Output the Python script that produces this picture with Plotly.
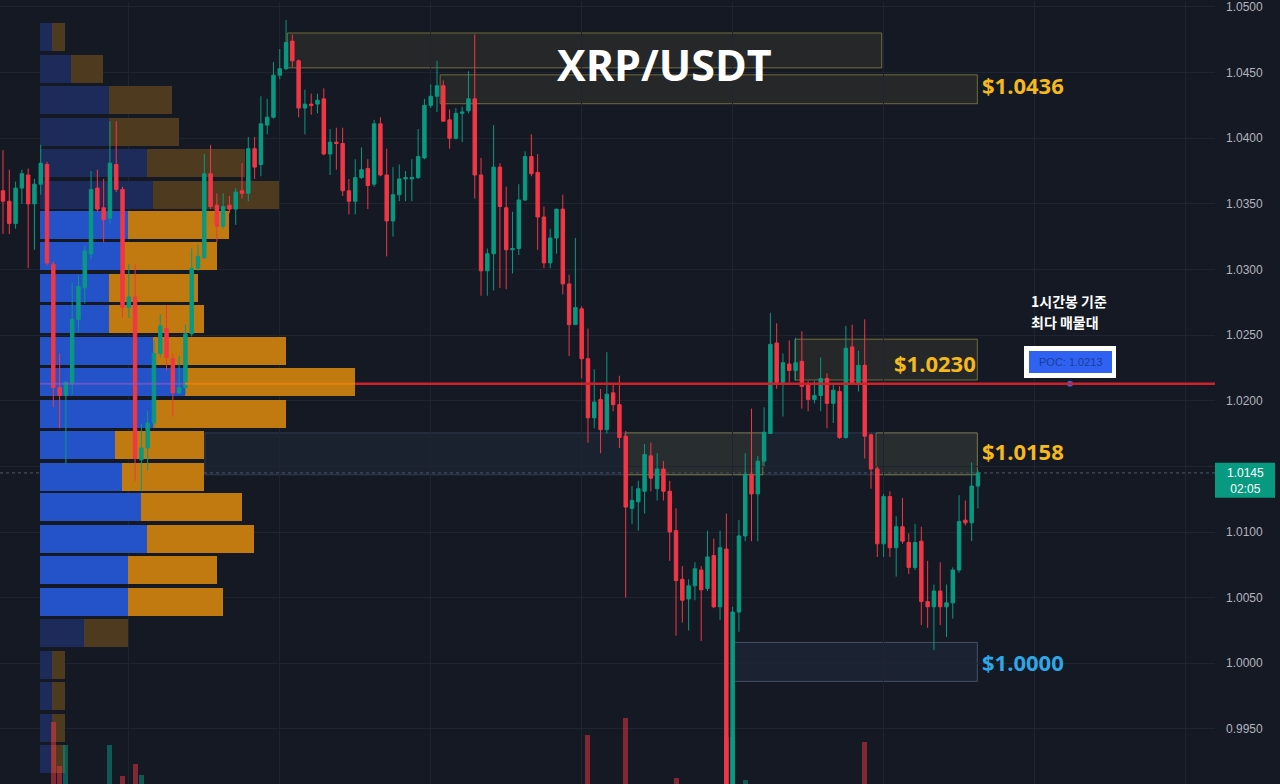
import plotly.graph_objects as go

# ---------------- data ----------------
bar_index = list(range(156))
opens = [1.0360,1.0352,1.0335,1.0362,1.0372,1.0350,1.0365,1.0380,1.0304,1.0210,
         1.0204,1.0213,1.0262,1.0286,1.0312,1.0362,1.0347,1.0339,1.0380,1.0361,
         1.0271,1.0279,1.0155,1.0164,1.0183,1.0236,1.0255,1.0232,1.0206,1.0210,
         1.0251,1.0301,1.0309,1.0373,1.0349,1.0333,1.0349,1.0346,1.0360,1.0358,
         1.0392,1.0380,1.0410,1.0416,1.0448,1.0453,1.0474,1.0459,1.0423,1.0426,
         1.0426,1.0430,1.0388,1.0397,1.0396,1.0360,1.0352,1.0370,1.0377,1.0365,
         1.0411,1.0372,1.0337,1.0357,1.0369,1.0369,1.0370,1.0385,1.0425,1.0432,
         1.0440,1.0414,1.0400,1.0419,1.0421,1.0430,1.0372,1.0299,1.0312,1.0378,
         1.0347,1.0315,1.0316,1.0353,1.0386,1.0374,1.0340,1.0305,1.0324,1.0346,
         1.0289,1.0258,1.0270,1.0232,1.0187,1.0201,1.0178,1.0206,1.0197,1.0173,
         1.0118,1.0123,1.0131,1.0158,1.0133,1.0148,1.0131,1.0101,1.0064,1.0049,
         1.0059,1.0071,1.0057,1.0082,1.0043,1.0087,0.9900,1.0039,1.0097,1.0144,
         1.0129,1.0154,1.0175,1.0244,1.0214,1.0228,1.0223,1.0230,1.0213,1.0201,
         1.0204,1.0217,1.0198,1.0207,1.0172,1.0241,1.0213,1.0227,1.0174,1.0148,
         1.0091,1.0127,1.0088,1.0104,1.0092,1.0073,1.0093,1.0047,1.0043,1.0055,
         1.0043,1.0046,1.0071,1.0109,1.0107,1.0135]
highs = [1.0391,1.0376,1.0367,1.0376,1.0377,1.0369,1.0395,1.0382,1.0306,1.0236,
         1.0215,1.0290,1.0296,1.0318,1.0375,1.0376,1.0369,1.0413,1.0413,1.0363,
         1.0304,1.0304,1.0182,1.0192,1.0246,1.0266,1.0273,1.0236,1.0234,1.0258,
         1.0316,1.0319,1.0388,1.0395,1.0358,1.0358,1.0356,1.0362,1.0381,1.0401,
         1.0401,1.0432,1.0430,1.0458,1.0468,1.0490,1.0479,1.0460,1.0437,1.0434,
         1.0434,1.0438,1.0407,1.0408,1.0408,1.0369,1.0384,1.0393,1.0384,1.0414,
         1.0416,1.0392,1.0378,1.0380,1.0375,1.0384,1.0407,1.0430,1.0441,1.0459,
         1.0444,1.0422,1.0423,1.0424,1.0451,1.0479,1.0385,1.0316,1.0410,1.0381,
         1.0363,1.0344,1.0365,1.0390,1.0403,1.0388,1.0348,1.0331,1.0346,1.0357,
         1.0296,1.0324,1.0272,1.0255,1.0224,1.0209,1.0237,1.0213,1.0219,1.0177,
         1.0135,1.0139,1.0167,1.0168,1.0160,1.0154,1.0139,1.0118,1.0074,1.0064,
         1.0077,1.0074,1.0101,1.0095,1.0101,1.0114,1.0043,1.0109,1.0160,1.0194,
         1.0158,1.0195,1.0267,1.0259,1.0236,1.0246,1.0248,1.0253,1.0215,1.0215,
         1.0233,1.0221,1.0213,1.0211,1.0257,1.0258,1.0238,1.0262,1.0175,1.0150,
         1.0129,1.0131,1.0112,1.0126,1.0099,1.0106,1.0104,1.0078,1.0060,1.0077,
         1.0060,1.0073,1.0128,1.0124,1.0153,1.0147]
lows = [1.0327,1.0327,1.0331,1.0350,1.0301,1.0315,1.0357,1.0303,1.0195,1.0179,
        1.0152,1.0205,1.0252,1.0274,1.0308,1.0344,1.0321,1.0335,1.0359,1.0263,
        1.0263,1.0139,1.0131,1.0147,1.0179,1.0233,1.0223,1.0188,1.0205,1.0205,
        1.0249,1.0299,1.0308,1.0346,1.0321,1.0331,1.0343,1.0334,1.0354,1.0352,
        1.0369,1.0371,1.0403,1.0415,1.0445,1.0452,1.0454,1.0416,1.0403,1.0418,
        1.0419,1.0387,1.0372,1.0376,1.0356,1.0342,1.0342,1.0369,1.0346,1.0363,
        1.0371,1.0310,1.0325,1.0352,1.0352,1.0352,1.0369,1.0384,1.0423,1.0420,
        1.0413,1.0392,1.0399,1.0397,1.0419,1.0354,1.0280,1.0280,1.0284,1.0286,
        1.0285,1.0297,1.0311,1.0352,1.0371,1.0315,1.0301,1.0301,1.0312,1.0281,
        1.0234,1.0258,1.0217,1.0168,1.0179,1.0160,1.0175,1.0192,1.0164,1.0050,
        1.0106,1.0101,1.0114,1.0131,1.0124,1.0124,1.0078,1.0021,1.0031,1.0025,
        1.0048,1.0017,1.0055,1.0042,1.0033,0.9895,0.9895,1.0024,1.0093,1.0093,
        1.0093,1.0150,1.0175,1.0209,1.0188,1.0214,1.0215,1.0194,1.0192,1.0198,
        1.0192,1.0179,1.0183,1.0171,1.0171,1.0213,1.0207,1.0156,1.0133,1.0081,
        1.0081,1.0081,1.0066,1.0091,1.0068,1.0071,1.0029,1.0027,1.0010,1.0029,
        1.0020,1.0034,1.0069,1.0105,1.0093,1.0118]
closes = [1.0352,1.0335,1.0362,1.0373,1.0350,1.0365,1.0381,1.0305,1.0210,1.0204,
          1.0214,1.0262,1.0287,1.0314,1.0361,1.0346,1.0338,1.0381,1.0361,1.0271,
          1.0279,1.0156,1.0164,1.0183,1.0236,1.0257,1.0233,1.0206,1.0210,1.0251,
          1.0301,1.0310,1.0373,1.0348,1.0333,1.0348,1.0346,1.0359,1.0358,1.0392,
          1.0378,1.0411,1.0416,1.0448,1.0453,1.0473,1.0459,1.0423,1.0426,1.0425,
          1.0429,1.0388,1.0397,1.0396,1.0360,1.0352,1.0370,1.0376,1.0364,1.0411,
          1.0372,1.0337,1.0357,1.0369,1.0370,1.0370,1.0386,1.0425,1.0432,1.0440,
          1.0413,1.0400,1.0419,1.0420,1.0430,1.0372,1.0299,1.0312,1.0378,1.0348,
          1.0315,1.0316,1.0353,1.0386,1.0373,1.0340,1.0305,1.0324,1.0346,1.0289,
          1.0258,1.0271,1.0232,1.0187,1.0199,1.0178,1.0205,1.0197,1.0172,1.0119,
          1.0124,1.0133,1.0159,1.0141,1.0148,1.0131,1.0100,1.0063,1.0048,1.0059,
          1.0072,1.0056,1.0081,1.0043,1.0088,0.9900,1.0039,1.0097,1.0144,1.0129,
          1.0154,1.0176,1.0243,1.0214,1.0229,1.0223,1.0229,1.0211,1.0201,1.0204,
          1.0217,1.0198,1.0208,1.0172,1.0240,1.0213,1.0227,1.0173,1.0148,1.0091,
          1.0127,1.0088,1.0104,1.0093,1.0073,1.0092,1.0047,1.0043,1.0055,1.0043,
          1.0046,1.0071,1.0108,1.0107,1.0135,1.0145]

# visible volume bars (bar index, volume)
vol_index = [8, 9, 10, 17, 19, 21, 22, 93, 99, 107, 115, 116, 118, 137]
vol_value = [62, 18, 39, 39, 8, 20, 9, 49, 66, 6, 47, 47, 4, 42]

# volume profile (price bins, buy / sell volume)
profile_price = [1.0477, 1.0453, 1.0429, 1.0405, 1.0381, 1.0357, 1.0334, 1.0310,
                 1.0286, 1.0262, 1.0238, 1.0214, 1.0190, 1.0166, 1.0142, 1.0119,
                 1.0095, 1.0071, 1.0047, 1.0023, 0.9999, 0.9975, 0.9951, 0.9927]
profile_up = [12, 31, 69, 69, 107, 113, 88, 82, 69, 69, 113, 145,
              113, 75, 82, 101, 107, 88, 88, 44, 12, 12, 12, 12]
profile_down = [13, 32, 63, 70, 98, 126, 101, 95, 89, 95, 133, 170,
                133, 89, 82, 101, 107, 89, 95, 44, 13, 13, 13, 13]
value_area = [False]*6 + [True]*13 + [False]*5

price_ticks = [0.9950, 1.0000, 1.0050, 1.0100, 1.0150, 1.0200, 1.0250,
               1.0300, 1.0350, 1.0400, 1.0450, 1.0500]
day_breaks = [20, 44, 68, 92, 116, 140, 164, 188]   # session separators (bar index)
poc_price = 1.0213
last_price = 1.0145

# ---------------- figure ----------------
BG = "#151924"
GRID = "#1f2431"
GREEN = "#089981"
RED = "#f23645"
GOLD = "#f5b91c"
W_PLOT = 1215

fig = go.Figure()

blue_cols = ["#2452c9" if v else "#1d2b5a" for v in value_area]
orng_cols = ["#c07a10" if v else "#4d3a1f" for v in value_area]
fig.add_trace(go.Bar(x=profile_up, y=profile_price, base=0, orientation="h",
                     width=0.00213, marker=dict(color=blue_cols, line=dict(width=0)),
                     xaxis="x", yaxis="y", hoverinfo="skip", showlegend=False))
fig.add_trace(go.Bar(x=profile_down, y=profile_price, base=profile_up, orientation="h",
                     width=0.00213, marker=dict(color=orng_cols, line=dict(width=0)),
                     xaxis="x", yaxis="y", hoverinfo="skip", showlegend=False))
# small POC marker on the red line
fig.add_trace(go.Scatter(x=[1030], y=[poc_price], mode="markers",
                         marker=dict(symbol="circle", size=6, color="#2f62f0"),
                         xaxis="x", yaxis="y", hoverinfo="skip", showlegend=False))

fig.add_trace(go.Candlestick(
    x=bar_index, open=opens, high=highs, low=lows, close=closes,
    increasing=dict(line=dict(color=GREEN, width=1), fillcolor=GREEN),
    decreasing=dict(line=dict(color=RED, width=1), fillcolor=RED),
    whiskerwidth=0, xaxis="x2", yaxis="y", showlegend=False, hoverinfo="skip"))

vol_cols = ["rgba(8,153,129,0.5)" if closes[i] >= opens[i] else "rgba(242,54,69,0.5)"
            for i in vol_index]
fig.add_trace(go.Bar(x=vol_index, y=vol_value, width=0.8,
                     marker=dict(color=vol_cols, line=dict(width=0)),
                     xaxis="x2", yaxis="y3", hoverinfo="skip", showlegend=False))

x_lo = -3 / 6.29
x_hi = (W_PLOT - 3) / 6.29
y_lo, y_hi = 0.99080, 1.05038

tick_text = [f"{v:.4f}" for v in price_ticks]
tick_text[price_ticks.index(1.0150)] = ""   # hidden behind the last-price tag

fig.update_layout(
    width=1280, height=784,
    margin=dict(l=0, r=65, t=0, b=0),
    paper_bgcolor=BG, plot_bgcolor=BG,
    barmode="overlay", bargap=0, boxgap=0.22,
    xaxis=dict(domain=[0, 1], range=[-40, 1175], visible=False, fixedrange=True),
    xaxis2=dict(overlaying="x", range=[x_lo, x_hi], visible=True,
                showticklabels=False, ticks="", tickvals=day_breaks,
                showgrid=True, gridcolor=GRID, gridwidth=1,
                zeroline=False, showline=False,
                rangeslider=dict(visible=False)),
    yaxis=dict(range=[y_lo, y_hi], side="right", tickvals=price_ticks,
               ticktext=tick_text,
               tickfont=dict(family="Liberation Sans", size=12, color="#b2b5be"),
               gridcolor=GRID, gridwidth=1, zeroline=False, showline=False,
               ticks="", ticklabelstandoff=10, ticklabeloverflow="allow"),
    yaxis3=dict(overlaying="y", range=[0, 784], visible=False),
    font=dict(family="Open Sans"),
)

shapes = []
def rect(x0, x1, y0, y1, fill, line, lw=1, dash="solid", layer="below"):
    shapes.append(dict(type="rect", xref="x2", yref="y", x0=x0, x1=x1, y0=y0, y1=y1,
                       fillcolor=fill, line=dict(color=line, width=lw, dash=dash),
                       layer=layer))

olive_fill = "rgba(70,70,50,0.32)"
olive_line = "rgba(140,135,70,0.75)"
blue_fill = "rgba(50,70,100,0.18)"
blue_line = "rgba(80,100,130,0.45)"
rect(45.2, 139.7, 1.04536, 1.04802, olive_fill, olive_line)
rect(69.5, 154.9, 1.04263, 1.04483, olive_fill, olive_line)
rect(32.1, 154.9, 1.01436, 1.01755, blue_fill, blue_line)
rect(98.9, 120.8, 1.01436, 1.01755, olive_fill, olive_line)
rect(138.8, 154.9, 1.01436, 1.01755, olive_fill, olive_line)
rect(125.9, 154.9, 1.02158, 1.02469, olive_fill, olive_line)
rect(116.0, 154.9, 0.99862, 1.00159, "rgba(50,70,100,0.22)", "rgba(90,105,130,0.7)")

# current price dotted line
shapes.append(dict(type="line", xref="paper", yref="y", x0=0, x1=1,
                   y0=last_price, y1=last_price,
                   line=dict(color="rgba(120,130,150,0.6)", width=1, dash="dot"),
                   layer="below"))
# profile POC line
shapes.append(dict(type="line", xref="x", yref="y", x0=0, x1=145, y0=poc_price, y1=poc_price,
                   line=dict(color="rgba(150,90,200,0.6)", width=2), layer="above"))
shapes.append(dict(type="line", xref="x", yref="y", x0=145, x1=315, y0=poc_price, y1=poc_price,
                   line=dict(color="#e8800c", width=2), layer="above"))
# POC red line
shapes.append(dict(type="line", xref="x2", yref="y", x0=56, x1=x_hi, y0=poc_price, y1=poc_price,
                   line=dict(color="#d0202a", width=2.5), layer="above"))

# POC label box (paper coords)
def px(xp): return xp / W_PLOT
def py(yp): return 1 - yp / 784
shapes.append(dict(type="rect", xref="paper", yref="paper", x0=px(1024), x1=px(1116),
                   y0=py(377), y1=py(345), fillcolor="#ffffff", line=dict(width=0)))
shapes.append(dict(type="rect", xref="paper", yref="paper", x0=px(1029), x1=px(1112),
                   y0=py(372), y1=py(350), fillcolor="#2f62f0", line=dict(width=0)))
# last price box on axis
shapes.append(dict(type="rect", xref="paper", yref="paper", x0=px(1215), x1=px(1275),
                   y0=py(497), y1=py(462), fillcolor=GREEN, line=dict(width=0)))
fig.update_layout(shapes=shapes)

ann = []
ann.append(dict(text="<b>XRP/USDT</b>", x=px(665), y=py(63), xref="paper", yref="paper",
                xanchor="center", yanchor="middle",
                showarrow=False, font=dict(size=43, color="#ffffff", family="Open Sans")))
def label(txt, xpix, price, color, xanchor="left", ys=0):
    ann.append(dict(text=f"<b>{txt}</b>", x=px(xpix), y=price, xref="paper", yref="y",
                    xanchor=xanchor, yanchor="middle", showarrow=False, yshift=ys,
                    font=dict(size=22, color=color, family="Open Sans")))
label("$1.0436", 980, 1.04385, GOLD, ys=3)
label("$1.0230", 978, 1.02272, GOLD, xanchor="right", ys=2)
label("$1.0158", 980, 1.01633, GOLD, ys=-2)
label("$1.0000", 980, 1.00006, "#2ea7e6")
for txt, yy in (("1시간봉 기준", 300), ("최다 매물대", 321)):
    ann.append(dict(text=f"<b>{txt}</b>", x=px(1029), y=py(yy),
                    xref="paper", yref="paper", xanchor="left", yanchor="middle",
                    showarrow=False,
                    font=dict(size=14, color="#ffffff", family="Noto Sans CJK KR")))
ann.append(dict(text="POC: 1.0213", x=px(1070.5), y=py(361), xref="paper", yref="paper",
                xanchor="center", yanchor="middle",
                showarrow=False, font=dict(size=11, color="#1b3c9c", family="Liberation Sans")))
ann.append(dict(text="1.0145<br>02:05", x=px(1245), y=py(480), xref="paper", yref="paper",
                xanchor="center", yanchor="middle",
                showarrow=False, align="center",
                font=dict(size=12, color="#ffffff", family="Liberation Sans")))
fig.update_layout(annotations=ann)

fig.write_html("out.html", config={"displayModeBar": False},
               post_script="document.body.style.margin='0';document.body.style.overflow='hidden';")
